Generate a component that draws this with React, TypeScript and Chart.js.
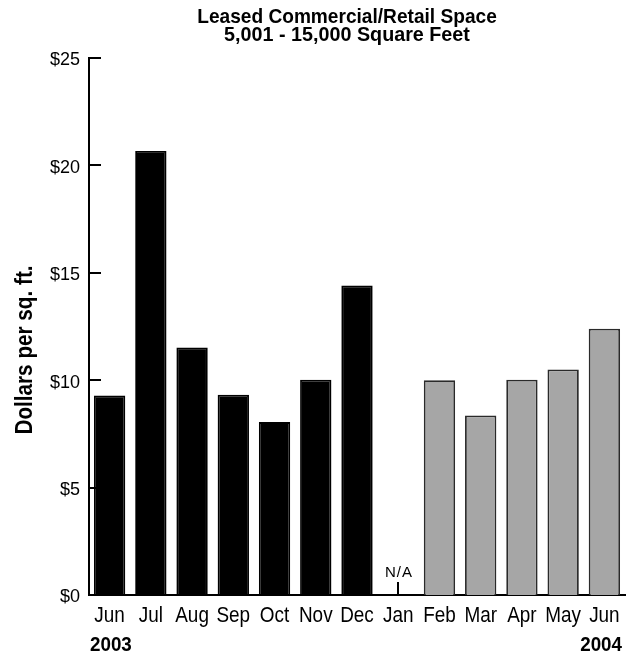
import React, { useEffect, useRef } from "react";
import { Chart, registerables } from "chart.js";

Chart.register(...registerables);

const months = ["Jun", "Jul", "Aug", "Sep", "Oct", "Nov", "Dec", "Jan", "Feb", "Mar", "Apr", "May", "Jun"];
const values: (number | null)[] = [9.29, 20.67, 11.52, 9.32, 8.05, 10.02, 14.41, null, 10.0, 8.36, 10.02, 10.5, 12.4];
const yearGroup = ["2003", "2003", "2003", "2003", "2003", "2003", "2003", "2004", "2004", "2004", "2004", "2004", "2004"];
const yTicks = [0, 5, 10, 15, 20, 25];
const titleLines = ["Leased Commercial/Retail Space", "5,001 - 15,000 Square Feet"];
const yTitle = "Dollars per sq. ft.";
const naLabel = "N/A";
const startYear = "2003";
const endYear = "2004";

const FONT = "'Liberation Sans', Arial, Helvetica, sans-serif";

function drawScaled(
  ctx: CanvasRenderingContext2D,
  text: string,
  x: number,
  y: number,
  font: string,
  sx: number,
  align: CanvasTextAlign
) {
  ctx.save();
  ctx.font = font;
  ctx.textAlign = align;
  ctx.textBaseline = "alphabetic";
  ctx.fillStyle = "#000";
  ctx.translate(x, y);
  ctx.scale(sx, 1);
  ctx.fillText(text, 0, 0);
  ctx.restore();
}

export default function App() {
  const ref = useRef<HTMLCanvasElement | null>(null);

  useEffect(() => {
    const canvas = ref.current;
    if (!canvas) return;

    const fill = yearGroup.map((y) => (y === "2003" ? "#000000" : "#a6a6a6"));
    const border = yearGroup.map((y) => (y === "2003" ? "#000000" : "#2a2a2a"));

    const decor = {
      id: "decor",
      afterDatasetsDraw(chart: any) {
        const { ctx, chartArea, scales } = chart;
        const y = scales.y;
        const x = scales.x;
        ctx.save();
        ctx.strokeStyle = "#000";
        ctx.lineWidth = 2;
        yTicks.forEach((v) => {
          const py = Math.round(y.getPixelForValue(v));
          ctx.beginPath();
          ctx.moveTo(chartArea.left, py);
          ctx.lineTo(chartArea.left + 12, py);
          ctx.stroke();
        });
        values.forEach((v, i) => {
          if (v === null) {
            const px = Math.round(x.getPixelForValue(i));
            ctx.beginPath();
            ctx.moveTo(px, chartArea.bottom);
            ctx.lineTo(px, chartArea.bottom - 13);
            ctx.stroke();
            ctx.fillStyle = "#000";
            ctx.font = `15px ${FONT}`;
            (ctx as any).letterSpacing = "1px";
            ctx.textAlign = "center";
            ctx.textBaseline = "alphabetic";
            ctx.fillText(naLabel, px + 1, chartArea.bottom - 18);
            (ctx as any).letterSpacing = "0px";
          }
        });
        ctx.restore();
      },
      afterDraw(chart: any) {
        const { ctx, scales, chartArea } = chart;
        const x = scales.x;
        x.ticks.forEach((t: any, i: number) => {
          const label = x.getLabelForValue(t.value);
          drawScaled(ctx, label, x.getPixelForTick(i), chartArea.bottom + 27, `22px ${FONT}`, 0.86, "center");
        });
        drawScaled(ctx, titleLines[0], 347, 23, `bold 21px ${FONT}`, 0.91, "center");
        drawScaled(ctx, titleLines[1], 347, 41, `bold 21px ${FONT}`, 0.94, "center");
        drawScaled(ctx, startYear, 90, 651, `bold 20px ${FONT}`, 0.94, "left");
        drawScaled(ctx, endYear, 622, 651, `bold 20px ${FONT}`, 0.94, "right");
        ctx.save();
        ctx.translate(32, 350);
        ctx.rotate(-Math.PI / 2);
        ctx.font = `bold 23px ${FONT}`;
        ctx.textAlign = "center";
        ctx.textBaseline = "alphabetic";
        ctx.fillStyle = "#000";
        ctx.scale(0.9, 1);
        ctx.fillText(yTitle, 0, 0);
        ctx.restore();
      },
    };

    const chart = new Chart(canvas, {
      type: "bar",
      data: {
        labels: months,
        datasets: [
          {
            data: values,
            backgroundColor: fill,
            borderColor: border,
            borderWidth: 1.8,
            barPercentage: 0.76,
            categoryPercentage: 1,
          },
        ],
      },
      options: {
        animation: false,
        responsive: true,
        maintainAspectRatio: false,
        layout: { padding: { top: 58, right: 11, left: 0, bottom: 0 } },
        plugins: {
          legend: { display: false },
          title: { display: false },
          tooltip: { enabled: false },
        },
        scales: {
          x: {
            type: "category",
            offset: true,
            grid: { display: false, drawTicks: false },
            border: { display: true, color: "#000", width: 2 },
            ticks: {
              display: false,
              autoSkip: false,
              maxRotation: 0,
            },
            afterFit(scale: any) {
              scale.height = 63;
            },
          },
          y: {
            min: 0,
            max: 25,
            grid: { display: false, drawTicks: false },
            border: { display: true, color: "#000", width: 2 },
            ticks: {
              stepSize: 5,
              color: "#000",
              font: { family: FONT, size: 18 },
              padding: 9,
              labelOffset: 2.5,
              callback: (v: any) => "$" + v,
            },
            afterFit(scale: any) {
              scale.width = 89;
            },
          },
        },
      },
      plugins: [decor],
    });

    return () => chart.destroy();
  }, []);

  return (
    <div style={{ position: "fixed", left: 0, top: 0, width: 636, height: 658 }}>
      <canvas ref={ref} />
    </div>
  );
}
